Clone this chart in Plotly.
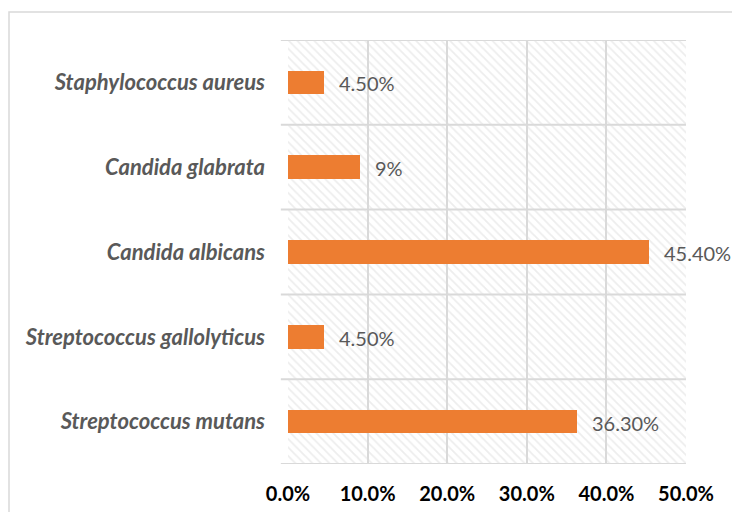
import plotly.graph_objects as go

# Organisms (bottom to top) and their share of isolates
organisms = [
    "Streptococcus mutans",
    "Streptococcus gallolyticus",
    "Candida albicans",
    "Candida glabrata",
    "Staphylococcus aureus",
]
percentages = [36.3, 4.5, 45.4, 9.0, 4.5]
value_labels = ["36.30%", "4.50%", "45.40%", "9%", "4.50%"]
x_ticks = [0, 10, 20, 30, 40, 50]
x_tick_labels = ["0.0%", "10.0%", "20.0%", "30.0%", "40.0%", "50.0%"]

ORANGE = "#ED7D31"
GRID = "#d9d9d9"
TEXT = "#595959"
FONT = "Lato"

fig = go.Figure()

# hatched plot-area background, one full-width band per category
fig.add_trace(go.Bar(
    y=organisms, x=[x_ticks[-1]] * len(organisms), orientation="h", width=1,
    marker=dict(color="rgba(0,0,0,0)", line=dict(width=0),
                pattern=dict(shape="\\", fgcolor="#dcdcdc", bgcolor="rgba(0,0,0,0)",
                             size=6, solidity=0.3)),
    hoverinfo="skip", showlegend=False,
))

fig.add_trace(go.Bar(
    y=organisms, x=percentages, orientation="h", width=0.28,
    marker=dict(color=ORANGE, line=dict(width=0)),
    showlegend=False,
))

for org, val, lab in zip(organisms, percentages, value_labels):
    fig.add_annotation(x=val, y=org, text=lab, showarrow=False, xanchor="left",
                       xshift=13, yshift=-1, font=dict(family=FONT, size=20, color=TEXT))

# category boundary lines, extended left as tick marks
shapes = []
for i in range(len(organisms) + 1):
    yb = i - 0.5
    shapes.append(dict(type="line", xref="paper", yref="y", x0=-0.018, x1=1,
                       y0=yb, y1=yb, line=dict(color=GRID, width=2), layer="below"))
# outer chart border
shapes.append(dict(type="rect", xref="paper", yref="paper", x0=-0.701, x1=1.2,
                   y0=-0.2, y1=1.066, line=dict(color=GRID, width=1.5), layer="below"))

fig.update_layout(
    width=732, height=512,
    margin=dict(l=288, r=46, t=40, b=48),
    paper_bgcolor="white", plot_bgcolor="white",
    barmode="overlay", bargap=0,
    shapes=shapes,
    xaxis=dict(range=[0, 50], tickvals=x_ticks, ticktext=x_tick_labels,
               showgrid=True, gridcolor=GRID, gridwidth=2, zeroline=False,
               showline=False, ticks="", ticklabelstandoff=16, automargin=False,
               tickfont=dict(family=FONT, size=20, color="#000000", weight="bold"),
               fixedrange=True),
    yaxis=dict(range=[-0.5, 4.5], showgrid=False, zeroline=False, showline=False,
               ticks="", ticklabelstandoff=22, automargin=False,
               tickfont=dict(family=FONT, size=22, color=TEXT, weight="bold", style="italic"),
               fixedrange=True),
)

fig.write_html("out.html")
